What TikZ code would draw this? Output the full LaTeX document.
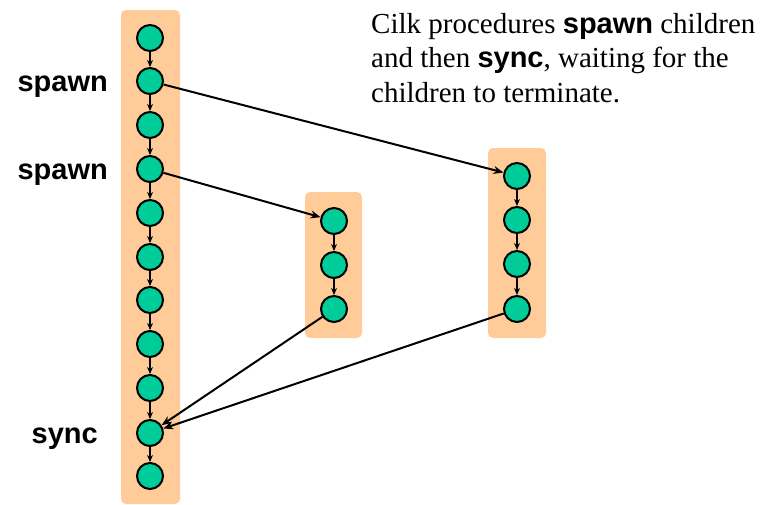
\documentclass[tikz,border=0pt]{standalone}
\usepackage{fontspec}
\setmainfont{Liberation Serif}
\setsansfont{Liberation Sans}
\usepackage{xcolor}
\usetikzlibrary{arrows.meta}
\definecolor{procfill}{RGB}{255,204,153}
\definecolor{threadfill}{RGB}{0,204,153}

\begin{document}
\begin{tikzpicture}[x=1pt,y=-1pt]
	\tikzstyle{vertex}=[circle,draw=black,line width=2pt,fill=threadfill,minimum size=26pt,inner sep=0pt]
	\tikzstyle{proc}=[fill=procfill,rounded corners=5pt]
	\tikzstyle{kw}=[font=\fontsize{29}{29}\sffamily\bfseries,inner sep=0pt]
	\useasboundingbox (0,0) rectangle (779,504);
	% procedure boxes
	\fill[proc] (121,10) rectangle (180,504);
	\fill[proc] (305,192) rectangle (362,338);
	\fill[proc] (488,148) rectangle (546,338);
	% parent procedure
	\node[vertex](m1) at (150,38){};
	\node[vertex](m2) at (150,81){};
	\node[vertex](m3) at (150,125){};
	\node[vertex](m4) at (150,169){};
	\node[vertex](m5) at (150,213){};
	\node[vertex](m6) at (150,257){};
	\node[vertex](m7) at (150,300){};
	\node[vertex](m8) at (150,344){};
	\node[vertex](m9) at (150,388){};
	\node[vertex](m10) at (150,433){};
	\node[vertex](m11) at (150,476){};
	% first child
	\node[vertex](c1) at (334,221){};
	\node[vertex](c2) at (334,265){};
	\node[vertex](c3) at (334,309){};
	% second child
	\node[vertex](d1) at (517,176){};
	\node[vertex](d2) at (517,220){};
	\node[vertex](d3) at (517,264){};
	\node[vertex](d4) at (517,309){};
	% labels
	\node[kw,anchor=base east](spawnA) at (108,91){spawn};
	\node[kw,anchor=base east](spawnB) at (108,179){spawn};
	\node[kw,anchor=base east](syncA) at (98,443){sync};
	\node[anchor=north west,inner sep=0pt,align=left,font=\fontsize{29}{34.5}\selectfont](caption) at (371,13)
		{Cilk procedures {\sffamily\bfseries spawn} children\\
		 and then {\sffamily\bfseries sync}, waiting for the\\
		 children to terminate.};
	\path[-{Stealth[length=7pt,width=6pt]},line width=1.5pt]
		(m1) edge (m2)
		(m2) edge (m3)
		(m3) edge (m4)
		(m4) edge (m5)
		(m5) edge (m6)
		(m6) edge (m7)
		(m7) edge (m8)
		(m8) edge (m9)
		(m9) edge (m10)
		(m10) edge (m11)
		(c1) edge (c2)
		(c2) edge (c3)
		(d1) edge (d2)
		(d2) edge (d3)
		(d3) edge (d4);
	\path[-{Stealth[length=10pt,width=8pt]},line width=2pt]
		(m2) edge (d1)
		(m4) edge (c1)
		(c3) edge (m10)
		(d4) edge (m10);
\end{tikzpicture}
\end{document}
